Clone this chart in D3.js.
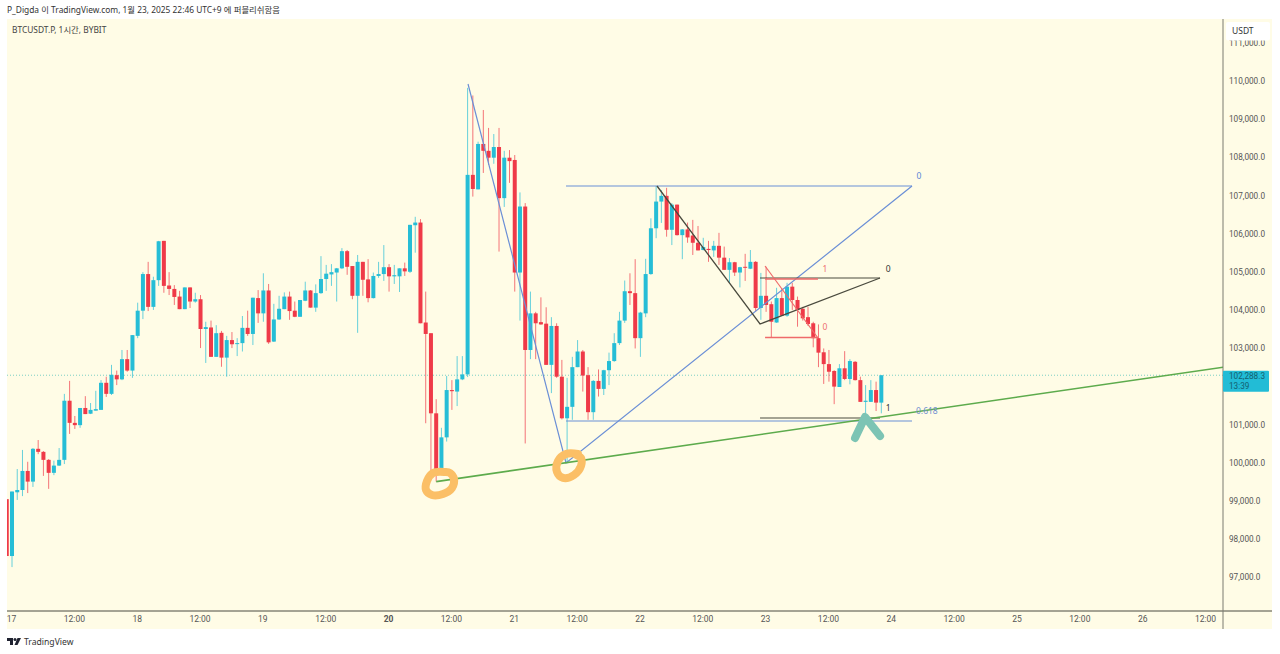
<!DOCTYPE html>
<html>
<head>
<meta charset="utf-8">
<script src="https://cdn.jsdelivr.net/npm/d3@7"></script>
<style>
  html, body { margin: 0; padding: 0; background: #fff; }
  svg { display: block; }
  text { font-family: "Noto Sans", "Noto Sans CJK KR", sans-serif; }
  .axis-text text, .tag-text { font-family: Roboto, "Noto Sans", sans-serif; }
</style>
</head>
<body>
<div id="chart"></div>
<script>
// hourly candles, the first one belongs to the bar before Jan 17 00:00
const firstBar = -1;

const opens = [
  99040,97550,99220,99280,99780,99500,100360,100280,100070,99730,99920,100070,
  101620,101040,100980,101430,101280,101360,101380,102090,101800,102290,102180,102710,
  102410,103320,103980,104940,104080,104780,105810,104640,104550,104350,104020,104590,
  104220,104280,103500,103540,102770,103400,102750,103210,103120,103130,103530,103370,
  104310,103910,104510,103170,103750,104020,104350,103980,103820,104240,104510,104060,
  104440,104810,104930,104980,105090,105540,105150,104370,105260,104800,104310,104890,
  104940,105120,104880,104880,105090,105000,106220,106290,103670,103390,101290,99800,
  100660,101900,101860,102180,102310,107540,107160,108350,108170,107990,108270,106930,
  107990,107930,104980,106710,102950,103910,103680,103640,102560,103580,102250,101160,
  101460,102500,102910,102290,101320,102140,101930,102420,102660,103130,103720,104490,
  104440,103260,103910,104940,106140,106840,106990,106100,106760,105960,106110,105950,
  105760,105570,105600,105560,105680,105370,105050,105250,104980,105130,105080,105260,
  104050,104370,104150,103670,104310,103850,104610,104260,104030,103810,103650,103260,
  102890,102580,102400,101980,102470,102190,102640,102160,101590,101590,101900,101570
];
const closes = [
  97550,99240,99280,99780,99500,100360,100280,100070,99730,99920,100070,101620,
  101040,100980,101430,101270,101380,101400,102090,101800,102300,102180,102710,102410,
  103340,103980,104940,104080,104780,105800,104630,104550,104340,104020,104590,104220,
  104280,103500,103550,102770,103390,102750,103210,103100,103130,103530,103370,104320,
  103910,104510,103150,103750,104030,104350,103970,103820,104260,104510,104060,104440,
  104810,104950,104990,105090,105540,105130,104370,105260,104790,104310,104890,104940,
  105120,104880,104910,105090,105010,106230,106290,103650,103370,101290,99720,100660,
  101900,101870,102180,102310,107540,107170,108350,108170,107990,108270,106930,107990,
  107900,104980,106710,102950,103910,103650,103620,102560,103580,102250,101160,101460,
  102500,102910,102280,101320,102140,101930,102420,102660,103130,103720,104490,104440,
  103260,103930,104940,106140,106840,106990,106100,106760,105960,106110,105900,105760,
  105560,105650,105570,105680,105370,105050,105250,104980,105120,105110,105260,104050,
  104370,104130,103690,104310,103850,104610,104260,104000,103780,103630,103260,102880,
  102580,102380,101990,102470,102190,102660,102160,101590,101620,101900,101570,102288
];
const highs = [
  99040,99240,99830,100330,100020,100380,100590,100300,100090,100050,100380,101800,
  102140,101220,101430,101740,101560,101880,102160,102250,102560,102410,102950,102950,
  103340,104190,104990,105260,104870,105810,105810,104990,104650,104500,104590,104590,
  104450,104390,103690,103720,103600,103450,103320,103420,103260,103840,103980,104320,
  104520,104960,104680,104160,104370,104460,104480,104220,104260,104740,104520,104670,
  105410,105180,105200,105100,105620,105570,105150,105440,105260,105330,104980,105260,
  105700,105200,105180,105090,105240,106230,106440,106380,104480,103390,101660,100910,
  102270,102160,102790,102790,109820,109620,108410,109240,108770,108610,108770,108170,
  108190,108060,107080,106800,104480,103950,104330,104070,103810,103650,102690,102220,
  102770,103210,102950,102500,102160,102440,102430,102880,103390,103950,104770,104960,
  105330,103950,105340,106400,107250,107140,107200,106800,106760,106120,106290,106360,
  106200,105890,105810,105810,106020,105660,105360,105260,105130,105470,105570,105280,
  104970,105130,104220,104580,104570,104710,104710,104350,104080,104080,103690,103620,
  102990,102950,102420,102580,102920,102710,102660,102250,102030,102160,102120,102288
];
const lows = [
  97550,97260,99020,99120,99200,99360,100220,99650,99310,99670,99910,99960,
  100750,100880,100910,101270,101270,101360,101380,101720,101770,102030,102160,102380,
  102220,103260,103760,103970,104000,104630,104450,104390,104130,104020,104020,104050,
  104190,103000,102610,102770,102770,102510,102250,103000,102790,102910,103320,103080,
  103660,103690,103110,103160,103740,104020,103740,103810,103820,104230,104060,103950,
  104420,104500,104630,104220,105070,104920,104280,103400,104370,104200,104300,104840,
  104760,104480,104680,104470,104890,104970,105500,103650,101030,99800,99500,99670,
  100550,101380,101480,102160,102240,106970,107160,107590,107800,107830,105530,106700,
  107330,104480,103720,100500,102710,102710,103610,102560,101820,102220,101130,99980,
  101120,102500,101860,101120,101120,101730,101770,102030,102640,103080,103660,104130,
  102990,102770,103810,104920,105880,106280,105920,105700,105950,105330,105760,105440,
  105560,105560,105260,105390,105180,105050,104710,104890,104590,104760,105070,103950,
  103740,103950,103290,103660,103850,103820,104000,103560,103720,103580,103020,102500,
  102060,102120,101530,101980,102160,102050,102150,101590,101200,101590,101350,101290
];

const timeTicks = [0,12,24,36,48,60,72,84,96,108,120,132,144,156,168,180,192,204,216,228];
const timeLabels = ['17','12:00','18','12:00','19','12:00','20','12:00','21','12:00','22','12:00','23','12:00','24','12:00','25','12:00','26','12:00'];
// 102,000 sits behind the last price tag, so it gets no label
const priceTicks = [97000,98000,99000,100000,101000,103000,104000,105000,106000,107000,108000,109000,110000,111000];
const lastPrice = 102288.3;
const countdown = '13:39';

// drawings on the chart, each point is [bar, price]
const trendLine = [[81, 99500], [231.3, 102500]];
const blueZigzag = [[87.08, 109921], [105.79, 99988], [171.86, 107248]];
const blueLevels = [[[105.79, 107248], [171.86, 107248]], [[105.79, 101089], [171.86, 101089]]];
const blackZigzag = [[123.17, 107248], [142.84, 103631], [165.75, 104837]];
const blackLevels = [[[142.84, 104837], [165.75, 104837]], [[142.84, 101167], [165.75, 101167]]];
const redZigzag = [[143.8, 105151], [153.9, 103264]];
const redLevels = [[[143.8, 104810], [153.9, 104810]], [[143.8, 103277], [153.9, 103277]]];
const levelLabels = [
  ['0', 173.2, 107484, '#5b86d6'],
  ['0.618', 174.7, 101325, '#6f8fd0'],
  ['0', 167.3, 105046, '#333333'],
  ['1', 167.3, 101403, '#333333'],
  ['1', 155.25, 105046, '#ee6f6f'],
  ['0', 155.25, 103526, '#ee6f6f']
];

// hand drawn marks
const ringLeft = [[82.69,99752],[80.39,99726],[79.25,99516],[79.06,99280],[80.2,99149],[82.3,99175],[84.02,99333],[84.4,99568],[83.64,99726]];
const ringRight = [[108.08,100224],[105.79,100224],[104.26,100040],[104.07,99752],[105.22,99595],[107.32,99673],[108.65,99909],[108.65,100119],[107.51,100224]];
const caret = [[160.98,100643],[162.89,101193],[165.76,100695]];

const width = 1280,
  height = 654,
  plot = { left: 7, right: 1223, top: 19, bottom: 611, outerRight: 1272, outerBottom: 629 },
  upColor = '#26bdd6',
  downColor = '#ef3a48',
  bodyWidth = 4;

const x = d3.scaleLinear().domain([0, 228]).range([12, 1206]);
const y = d3.scaleLinear().domain([97000, 110000]).range([577, 81]);

const svg = d3
  .select('#chart')
  .append('svg')
  .attr('width', width)
  .attr('height', height);

svg
  .append('rect')
  .attr('x', plot.left)
  .attr('y', plot.top)
  .attr('width', plot.outerRight - plot.left)
  .attr('height', plot.outerBottom - plot.top)
  .attr('fill', '#fffce6');

svg
  .append('defs')
  .append('clipPath')
  .attr('id', 'plot-clip')
  .append('rect')
  .attr('x', plot.left)
  .attr('y', plot.top)
  .attr('width', plot.right - plot.left)
  .attr('height', plot.bottom - plot.top);

const chart = svg.append('g').attr('clip-path', 'url(#plot-clip)');

// last price line
chart
  .append('line')
  .attr('x1', plot.left)
  .attr('x2', plot.right)
  .attr('y1', y(lastPrice))
  .attr('y2', y(lastPrice))
  .attr('stroke', '#7ccfc4')
  .attr('stroke-width', 1)
  .attr('stroke-dasharray', '1 2');

const candles = d3.range(opens.length).map((i) => ({
  bar: firstBar + i,
  open: opens[i],
  high: highs[i],
  low: lows[i],
  close: closes[i],
}));
const candleColor = (d) => (d.close >= d.open ? upColor : downColor);

chart
  .append('g')
  .selectAll('line')
  .data(candles)
  .join('line')
  .attr('x1', (d) => x(d.bar))
  .attr('x2', (d) => x(d.bar))
  .attr('y1', (d) => y(d.high))
  .attr('y2', (d) => y(d.low))
  .attr('stroke', candleColor)
  .attr('stroke-opacity', 0.7)
  .attr('stroke-width', 1);

chart
  .append('g')
  .selectAll('rect')
  .data(candles)
  .join('rect')
  .attr('x', (d) => x(d.bar) - bodyWidth / 2)
  .attr('width', bodyWidth)
  .attr('y', (d) => y(Math.max(d.open, d.close)))
  .attr('height', (d) => Math.max(1, Math.abs(y(d.open) - y(d.close))))
  .attr('fill', candleColor);

const line = d3
  .line()
  .x((d) => x(d[0]))
  .y((d) => y(d[1]));

function drawPath(points, color, strokeWidth) {
  return chart
    .append('path')
    .attr('d', line(points))
    .attr('fill', 'none')
    .attr('stroke', color)
    .attr('stroke-width', strokeWidth);
}

blueLevels.forEach((l) => drawPath(l, '#6b8fd6', 1.2));
drawPath(blueZigzag, '#6b8fd6', 1.2);
blackLevels.forEach((l) => drawPath(l, '#4a4a3e', 1.2));
drawPath(blackZigzag, '#4a4a3e', 1.3);
redLevels.forEach((l) => drawPath(l, '#ef6a6a', 1.3));
drawPath(redZigzag, '#ef6a6a', 1.2);
drawPath(trendLine, '#5dab4c', 1.6);

// orange circles and the teal caret
const freehand = d3
  .line()
  .x((d) => x(d[0]))
  .y((d) => y(d[1]))
  .curve(d3.curveCatmullRomClosed);

[ringLeft, ringRight].forEach((ring) => {
  chart
    .append('path')
    .attr('d', freehand(ring))
    .attr('fill', 'none')
    .attr('stroke', '#fbbf66')
    .attr('stroke-width', 8)
    .attr('stroke-linecap', 'round')
    .attr('stroke-linejoin', 'round');
});

chart
  .append('path')
  .attr('d', line(caret))
  .attr('fill', 'none')
  .attr('stroke', '#7cc4b4')
  .attr('stroke-width', 8)
  .attr('stroke-linecap', 'round')
  .attr('stroke-linejoin', 'round');

chart
  .append('g')
  .selectAll('text')
  .data(levelLabels)
  .join('text')
  .attr('x', (d) => x(d[1]))
  .attr('y', (d) => y(d[2]))
  .attr('text-anchor', 'middle')
  .attr('dominant-baseline', 'middle')
  .attr('font-size', 8.5)
  .attr('fill', (d) => d[3])
  .text((d) => d[0]);

// price axis
const yAxis = svg
  .append('g')
  .attr('class', 'axis-text')
  .attr('transform', `translate(${plot.right}, 0)`)
  .call(
    d3
      .axisRight(y)
      .tickValues(priceTicks)
      .tickSize(0)
      .tickPadding(6)
      .tickFormat((d) => d3.format(',.1f')(d))
  );
yAxis.select('.domain').remove();
yAxis
  .selectAll('text')
  .attr('font-size', 8.2)
  .attr('fill', '#555');

// time axis
const xAxis = svg
  .append('g')
  .attr('class', 'axis-text')
  .attr('transform', `translate(0, ${plot.bottom})`)
  .call(
    d3
      .axisBottom(x)
      .tickValues(timeTicks)
      .tickSize(0)
      .tickPadding(5)
      .tickFormat((d, i) => timeLabels[i])
  );
xAxis.select('.domain').remove();
xAxis
  .selectAll('text')
  .attr('font-size', 8.5)
  .attr('dx', -1)
  .attr('fill', '#555')
  .attr('font-weight', (d, i) => (timeLabels[i] === '20' ? 700 : 400));

// frame lines
svg
  .append('line')
  .attr('x1', plot.left)
  .attr('x2', plot.outerRight)
  .attr('y1', plot.bottom)
  .attr('y2', plot.bottom)
  .attr('stroke', '#4a4a40');
svg
  .append('line')
  .attr('x1', plot.right)
  .attr('x2', plot.right)
  .attr('y1', plot.top)
  .attr('y2', plot.outerBottom)
  .attr('stroke', '#7a7a70');

// currency button
svg
  .append('rect')
  .attr('x', 1226)
  .attr('y', 22)
  .attr('width', 44)
  .attr('height', 18.5)
  .attr('rx', 2)
  .attr('fill', '#fff');
svg
  .append('text')
  .attr('x', 1232)
  .attr('y', 34)
  .attr('font-size', 8.5)
  .attr('fill', '#333')
  .text('USDT');

// last price tag, both lines sit in one text
const tagY = y(lastPrice);
svg
  .append('rect')
  .attr('x', plot.right)
  .attr('y', tagY - 4.5)
  .attr('width', 46)
  .attr('height', 21)
  .attr('rx', 1)
  .attr('fill', '#22bcd6');
const tagText = svg
  .append('text')
  .attr('class', 'tag-text')
  .attr('font-size', 8.2)
  .attr('fill', '#14606f');
tagText
  .append('tspan')
  .attr('x', plot.right + 6)
  .attr('y', tagY + 4)
  .text(d3.format(',.1f')(lastPrice));
tagText
  .append('tspan')
  .attr('x', plot.right + 6)
  .attr('y', tagY + 14)
  .text(countdown);

// header, symbol and footer text
svg
  .append('text')
  .attr('x', 7)
  .attr('y', 12.5)
  .attr('font-size', 8.4)
  .attr('fill', '#333')
  .text('P_Digda 이 TradingView.com, 1월 23, 2025 22:46 UTC+9 에 퍼블리쉬함음');
svg
  .append('text')
  .attr('x', 12)
  .attr('y', 32.5)
  .attr('font-size', 8.4)
  .attr('fill', '#444')
  .text('BTCUSDT.P, 1시간, BYBIT');

const logo = svg.append('g').attr('transform', 'translate(7, 638)').attr('fill', '#1f2230');
logo.append('path').attr('d', 'M0 0H6V7H3V3H0Z');
logo.append('circle').attr('cx', 8).attr('cy', 1.5).attr('r', 1.5);
logo.append('path').attr('d', 'M10.5 0H14L10.5 7H7.5Z');
svg
  .append('text')
  .attr('x', 24)
  .attr('y', 645)
  .attr('font-size', 8.6)
  .attr('fill', '#333')
  .text('TradingView');
</script>
</body>
</html>
